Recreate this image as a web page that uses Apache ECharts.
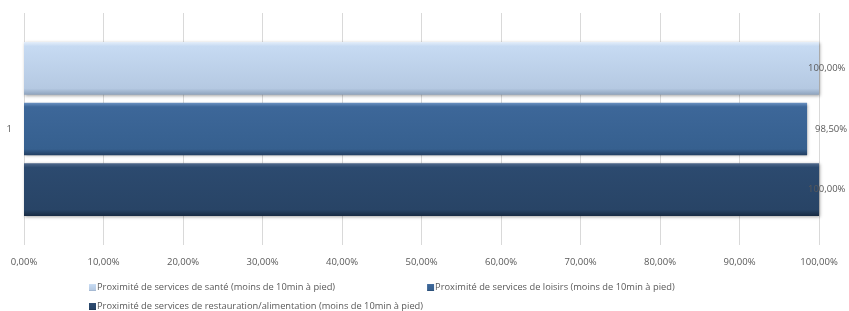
<!DOCTYPE html>
<html>
<head>
<meta charset="utf-8">
<script src="https://cdn.jsdelivr.net/npm/echarts@6/dist/echarts.min.js"></script>
<style>
  html, body { margin: 0; padding: 0; background: #fff; }
  #chart { width: 849px; height: 311px; }
</style>
</head>
<body>
<div id="chart"></div>
<script>
const categories = ['1'];
const seriesNames = [
  'Proximité de services de santé (moins de 10min à pied)',
  'Proximité de services de loisirs (moins de 10min à pied)',
  'Proximité de services de restauration/alimentation (moins de 10min à pied)'
];
const santeValues = [100];
const loisirsValues = [98.5];
const restaurationValues = [100];

const palette = [
  ['#e4eefa', '#c6daf2', '#b5c9e2', '#8ea3bd'],
  ['#6d93c3', '#3d6799', '#36608f', '#223e60'],
  ['#50698c', '#2c4a6f', '#284466', '#172a42']
];

const fmt = v => v.toFixed(2).replace('.', ',') + '%';

function bevel(i) {
  const c = palette[i];
  return new echarts.graphic.LinearGradient(0, 0, 0, 1, [
    { offset: 0, color: c[0] },
    { offset: 0.08, color: c[1] },
    { offset: 0.88, color: c[2] },
    { offset: 1, color: c[3] }
  ]);
}

const chart = echarts.init(document.getElementById('chart'));

const textStyle = { fontFamily: 'Open Sans', fontSize: 9.5, color: '#595959' };
const legendText = { fontFamily: 'Open Sans', fontSize: 9.3, color: '#595959', padding: [0, 0, 0, -4] };

function makeSeries(i, data, labelDist) {
  return {
    name: seriesNames[i],
    type: 'bar',
    data: data,
    barGap: '15%',
    barCategoryGap: '25%',
    itemStyle: {
      color: bevel(i),
      shadowColor: 'rgba(0,0,0,0.35)',
      shadowBlur: 3,
      shadowOffsetX: 1,
      shadowOffsetY: 1
    },
    label: {
      show: true,
      position: 'right',
      distance: labelDist,
      formatter: p => fmt(p.value),
      ...textStyle
    }
  };
}

chart.setOption({
  animation: false,
  grid: { left: 24, right: 30, top: 13, bottom: 66 },
  legend: [
    {
      data: [seriesNames[0], seriesNames[1]],
      left: 84, top: 278,
      itemWidth: 7, itemHeight: 7, itemGap: 92,
      icon: 'rect',
      textStyle: legendText
    },
    {
      data: [seriesNames[2]],
      left: 84, top: 297,
      itemWidth: 7, itemHeight: 7,
      icon: 'rect',
      textStyle: legendText
    }
  ],
  xAxis: {
    type: 'value',
    min: 0, max: 100, interval: 10,
    axisLine: { show: false },
    axisTick: { show: false },
    splitLine: { lineStyle: { color: '#d9d9d9' } },
    axisLabel: { formatter: v => fmt(v), margin: 12, ...textStyle }
  },
  yAxis: {
    type: 'category',
    inverse: true,
    data: categories,
    axisLine: { show: false },
    axisTick: { show: false },
    axisLabel: { margin: 12, ...textStyle }
  },
  series: [
    makeSeries(0, santeValues, -11),
    makeSeries(1, loisirsValues, 8),
    makeSeries(2, restaurationValues, -11)
  ]
});
</script>
</body>
</html>
